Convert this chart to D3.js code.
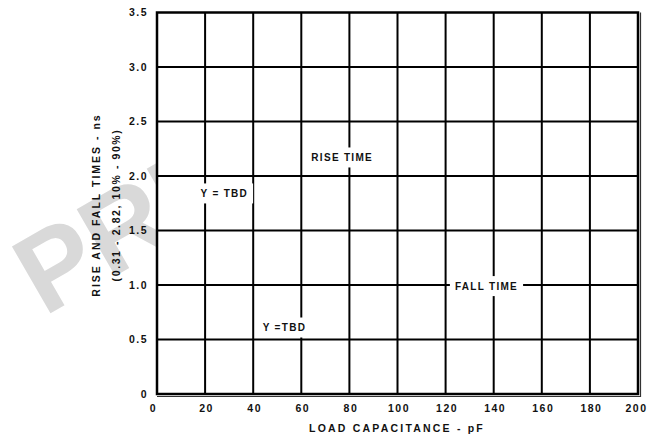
<!DOCTYPE html>
<html>
<head>
<meta charset="utf-8">
<script src="https://cdn.jsdelivr.net/npm/d3@7"></script>
<style>
  body { margin: 0; background: #fff; }
  text { font-family: "Liberation Sans", Arial, sans-serif; font-weight: bold; fill: #111; }
</style>
</head>
<body>
<div id="chart"></div>
<script>
// axis ticks
var xTicks = [0, 20, 40, 60, 80, 100, 120, 140, 160, 180, 200];
var yTicks = [0, 0.5, 1.0, 1.5, 2.0, 2.5, 3.0, 3.5];
var yTickLabels = ["0", "0.5", "1.0", "1.5", "2.0", "2.5", "3.0", "3.5"];

// annotations placed on the (empty) grid
var noteText = ["RISE TIME", "Y = TBD", "FALL TIME", "Y =TBD"];
var noteX = [77, 28, 137, 53];
var noteY = [2.17, 1.84, 0.99, 0.61];

var width = 647, height = 439;
var margin = {top: 12.5, right: 9, bottom: 45, left: 157};
var w = width - margin.left - margin.right,
    h = height - margin.top - margin.bottom;

var svg = d3.select("#chart").append("svg")
    .attr("width", width)
    .attr("height", height);

// watermark, only the part left of the plot shows
svg.append("clipPath").attr("id", "wmclip")
  .append("rect")
    .attr("x", 0).attr("y", 0)
    .attr("width", margin.left).attr("height", height);

svg.append("g")
    .attr("clip-path", "url(#wmclip)")
  .append("text")
    .attr("transform", "translate(44,317) rotate(-30)")
    .style("font-family", "Liberation Sans, Arial, sans-serif")
    .style("font-size", "112px")
    .style("font-weight", "bold")
    .style("fill", "#d9d9d9")
    .text("PRELIMINARY");

var x = d3.scaleLinear().domain([0, 200]).range([0, w]);
var y = d3.scaleLinear().domain([0, 3.5]).range([h, 0]);

var g = svg.append("g")
    .attr("transform", "translate(" + margin.left + "," + margin.top + ")");

g.append("rect")
    .attr("width", w).attr("height", h)
    .attr("fill", "#fff");

// grid
g.selectAll(".vgrid")
    .data(xTicks.slice(1, -1))
  .enter().append("line")
    .attr("class", "vgrid")
    .attr("x1", function(d) { return x(d); })
    .attr("x2", function(d) { return x(d); })
    .attr("y1", 0).attr("y2", h)
    .attr("stroke", "#000").attr("stroke-width", 2);

g.selectAll(".hgrid")
    .data(yTicks.slice(1, -1))
  .enter().append("line")
    .attr("class", "hgrid")
    .attr("y1", function(d) { return y(d); })
    .attr("y2", function(d) { return y(d); })
    .attr("x1", 0).attr("x2", w)
    .attr("stroke", "#000").attr("stroke-width", 2);

// annotations with white knock-out boxes
var notes = g.selectAll(".note")
    .data(noteText)
  .enter().append("g")
    .attr("class", "note")
    .attr("transform", function(d, i) { return "translate(" + x(noteX[i]) + "," + y(noteY[i]) + ")"; });

notes.append("rect").attr("fill", "#fff");
notes.append("text")
    .attr("text-anchor", "middle")
    .attr("dy", "0.35em")
    .style("font-size", "10px")
    .style("letter-spacing", "1.3px")
    .text(function(d) { return d; });
notes.each(function() {
  var b = d3.select(this).select("text").node().getBBox();
  d3.select(this).select("rect")
      .attr("x", b.x - 5).attr("y", -10)
      .attr("width", b.width + 10).attr("height", 20);
});

// frame: heavy left/top, doubled right/bottom
g.append("rect")
    .attr("width", w).attr("height", h)
    .attr("fill", "none")
    .attr("stroke", "#000").attr("stroke-width", 2.5);
g.append("path")
    .attr("d", "M" + (w + 2.5) + ",0 V" + (h + 2.5) + " H0")
    .attr("fill", "none")
    .attr("stroke", "#333").attr("stroke-width", 1.2);

// axes (labels only, grid is drawn above)
var xAxis = g.append("g")
    .attr("transform", "translate(0," + h + ")")
    .call(d3.axisBottom(x).tickValues(xTicks).tickSize(0).tickPadding(11).tickFormat(d3.format("d")));
xAxis.select(".domain").remove();
xAxis.selectAll("text")
    .style("font-size", "10.5px")
    .style("letter-spacing", "1.5px")
    .attr("fill", "#111")
    .attr("x", function(d) { return d === 0 ? -4 : (d === 200 ? -2 : 1); });

var yAxis = g.append("g")
    .call(d3.axisLeft(y).tickValues(yTicks).tickSize(0).tickPadding(9)
      .tickFormat(function(d, i) { return yTickLabels[i]; }));
yAxis.select(".domain").remove();
yAxis.selectAll("text")
    .style("font-size", "10.5px")
    .style("letter-spacing", "1.5px")
    .attr("fill", "#111");

// axis titles
svg.append("text")
    .attr("x", 397).attr("y", 432)
    .attr("text-anchor", "middle")
    .style("font-size", "10.5px")
    .style("letter-spacing", "2.2px")
    .text("LOAD CAPACITANCE - pF");

svg.append("text")
    .attr("transform", "translate(100,205) rotate(-90)")
    .attr("text-anchor", "middle")
    .style("font-size", "10.5px")
    .style("letter-spacing", "2px")
    .text("RISE AND FALL TIMES - ns");

svg.append("text")
    .attr("transform", "translate(120,205) rotate(-90)")
    .attr("text-anchor", "middle")
    .style("font-size", "10.5px")
    .style("letter-spacing", "1.6px")
    .text("(0.31 - 2.82, 10% - 90%)");
</script>
</body>
</html>
